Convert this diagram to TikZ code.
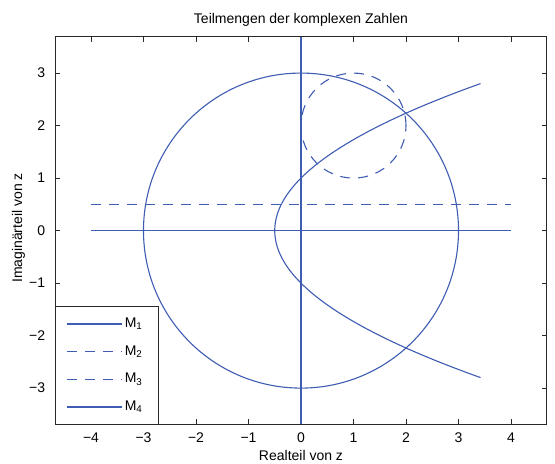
\documentclass[tikz,border=0pt]{standalone}
\usepackage{fontspec}
\setmainfont{Liberation Sans}
\definecolor{mblue}{RGB}{62,92,178}
\definecolor{axgray}{RGB}{40,40,40}
\tikzset{
  curve/.style={mblue, line width=1.1pt},
  dcurve/.style={curve, dash pattern=on 10pt off 8pt},
  axisline/.style={axgray, line width=1pt},
  tickline/.style={axgray, line width=0.8pt},
  lbl/.style={inner sep=0pt},
}
\begin{document}
\begin{tikzpicture}[x=52.5pt,y=52.5pt, font=\fontsize{14}{16}\selectfont]
\useasboundingbox (-5.733,-4.427) rectangle (4.838,4.392);
% axes box
\draw[axisline] (-4.68,-3.69) rectangle (4.68,3.69);
\foreach \x/\lab in {-4/−4,-3/−3,-2/−2,-1/−1,0/0,1/1,2/2,3/3,4/4} {
  \draw[tickline] (\x,-3.69) -- ++(0,5pt);
  \draw[tickline] (\x,3.69) -- ++(0,-5pt);
  \node[lbl, anchor=base] (xt\x) at (\x,-4.03) {\lab};
}
\foreach \y/\lab in {-3/−3,-2/−2,-1/−1,0/0,1/1,2/2,3/3} {
  \draw[tickline] (-4.68,\y) -- ++(5pt,0);
  \draw[tickline] (4.68,\y) -- ++(-5pt,0);
  \node[lbl, anchor=east] (yt\y) at (-4.87,\y) {\lab};
}
% curves
\begin{scope}
  \clip (-4.68,-3.69) rectangle (4.68,3.69);
  \draw[curve] (0,0) circle (3);
  \draw[curve] (-4,0) -- (4,0);
  \draw[curve] (0,-3.69) -- (0,3.69);
  \draw[dcurve] (-4,0.5) -- (4,0.5);
  \draw[dcurve] (1,2) circle (1);
  \draw[curve] plot[domain=-2.8:2.8, samples=100, smooth, variable=\s] ({(\s*\s-1)/2},\s);
\end{scope}
% labels
\node[lbl] (title) at (0,4.02) {Teilmengen der komplexen Zahlen};
\node[lbl] (xlab) at (0,-4.28) {Realteil von z};
\node[lbl, rotate=90] (ylab) at (-5.38,0.05) {Imaginärteil von z};
% legend
\draw[axisline, fill=white] (-4.68,-3.69) rectangle (-2.72,-1.455);
\foreach \i/\yy/\st in {1/-1.78/curve, 2/-2.31/dcurve, 3/-2.83/dcurve, 4/-3.36/curve} {
  \coordinate (la\i) at (-4.46,\yy);
  \coordinate (lb\i) at (-3.415,\yy);
  \draw[\st] (la\i) -- (lb\i);
  \node[lbl, anchor=west] (lt\i) at (-3.36,\yy) {M\textsubscript{\i}};
}
\end{tikzpicture}
\end{document}
